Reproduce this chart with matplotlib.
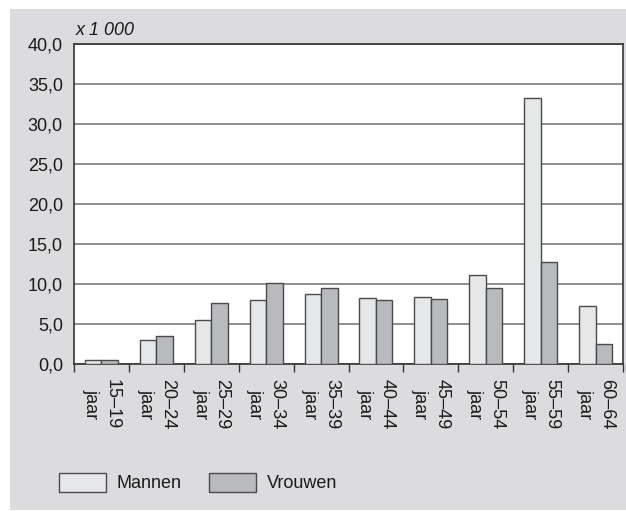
import matplotlib
matplotlib.use("Agg")
import matplotlib.pyplot as plt
from matplotlib.patches import Rectangle, Patch
import numpy as np

plt.rcParams['font.family'] = ['Liberation Sans', 'DejaVu Sans']

categories = ["15–19\njaar", "20–24\njaar", "25–29\njaar", "30–34\njaar", "35–39\njaar",
              "40–44\njaar", "45–49\njaar", "50–54\njaar", "55–59\njaar", "60–64\njaar"]
mannen = [0.5, 3.0, 5.5, 8.0, 8.7, 8.3, 8.4, 11.1, 33.3, 7.2]
vrouwen = [0.5, 3.5, 7.6, 10.1, 9.5, 8.0, 8.1, 9.5, 12.7, 2.45]
yticks = [0, 5, 10, 15, 20, 25, 30, 35, 40]
ytick_labels = ["0,0", "5,0", "10,0", "15,0", "20,0", "25,0", "30,0", "35,0", "40,0"]
series_names = ["Mannen", "Vrouwen"]

W, H = 626, 511
FS = 13
TXT = "#1a1a1a"
fig = plt.figure(figsize=(W / 100, H / 100), dpi=100)
fig.patch.set_facecolor("white")
fig.patches.append(Rectangle((10 / W, 1 / H), 1 - 10 / W, (510 - 9) / H,
                             transform=fig.transFigure, facecolor="#dcdcde",
                             edgecolor="none", zorder=-10))

ax = fig.add_axes([74 / W, (H - 364) / H, (623 - 74) / W, (364 - 44) / H])
ax.set_facecolor("white")

x = np.arange(len(categories))
bw = 0.3
ax.bar(x - bw / 2, mannen, width=bw, color="#e6e7e9", edgecolor="#4a4a4a", linewidth=1.0, zorder=3)
ax.bar(x + bw / 2, vrouwen, width=bw, color="#b9babd", edgecolor="#4a4a4a", linewidth=1.0, zorder=3)

ax.set_xlim(-0.5, len(categories) - 0.5)
ax.set_ylim(0, 40)
ax.set_yticks(yticks)
ax.set_yticklabels(ytick_labels, fontsize=FS, color=TXT)
ax.tick_params(axis="y", length=0, pad=8)
ax.yaxis.grid(True, color="#7a7a7a", linewidth=1.2, zorder=0)
ax.set_axisbelow(True)

ax.set_xticks(x)
ax.set_xticklabels(categories, rotation=-90, fontsize=FS, color=TXT,
                   ha="center", va="top", linespacing=1.35)
ax.set_xticks(np.arange(-0.5, len(categories)), minor=True)
ax.tick_params(axis="x", which="major", length=0, pad=11)
ax.tick_params(axis="x", which="minor", length=6, width=1.0, color="#333333", direction="out")

for s in ["left", "top", "right", "bottom"]:
    ax.spines[s].set_color("#333333")
    ax.spines[s].set_linewidth(1.2)

ax.text(0.003, 1.015, "x 1 000", transform=ax.transAxes, fontsize=FS, style="italic",
        ha="left", va="bottom", color=TXT)

handles = [Patch(facecolor="#e6e7e9", edgecolor="#4a4a4a", linewidth=1.0),
           Patch(facecolor="#b9babd", edgecolor="#4a4a4a", linewidth=1.0)]
fig.legend(handles, series_names, loc="center left", bbox_to_anchor=(59 / W, (H - 482.5) / H),
           bbox_transform=fig.transFigure, ncol=2, frameon=False, fontsize=FS,
           handlelength=2.6, handleheight=1.3, handletextpad=0.6, columnspacing=1.5,
           borderpad=0, borderaxespad=0, labelcolor=TXT)

fig.savefig("out.png", dpi=100)
